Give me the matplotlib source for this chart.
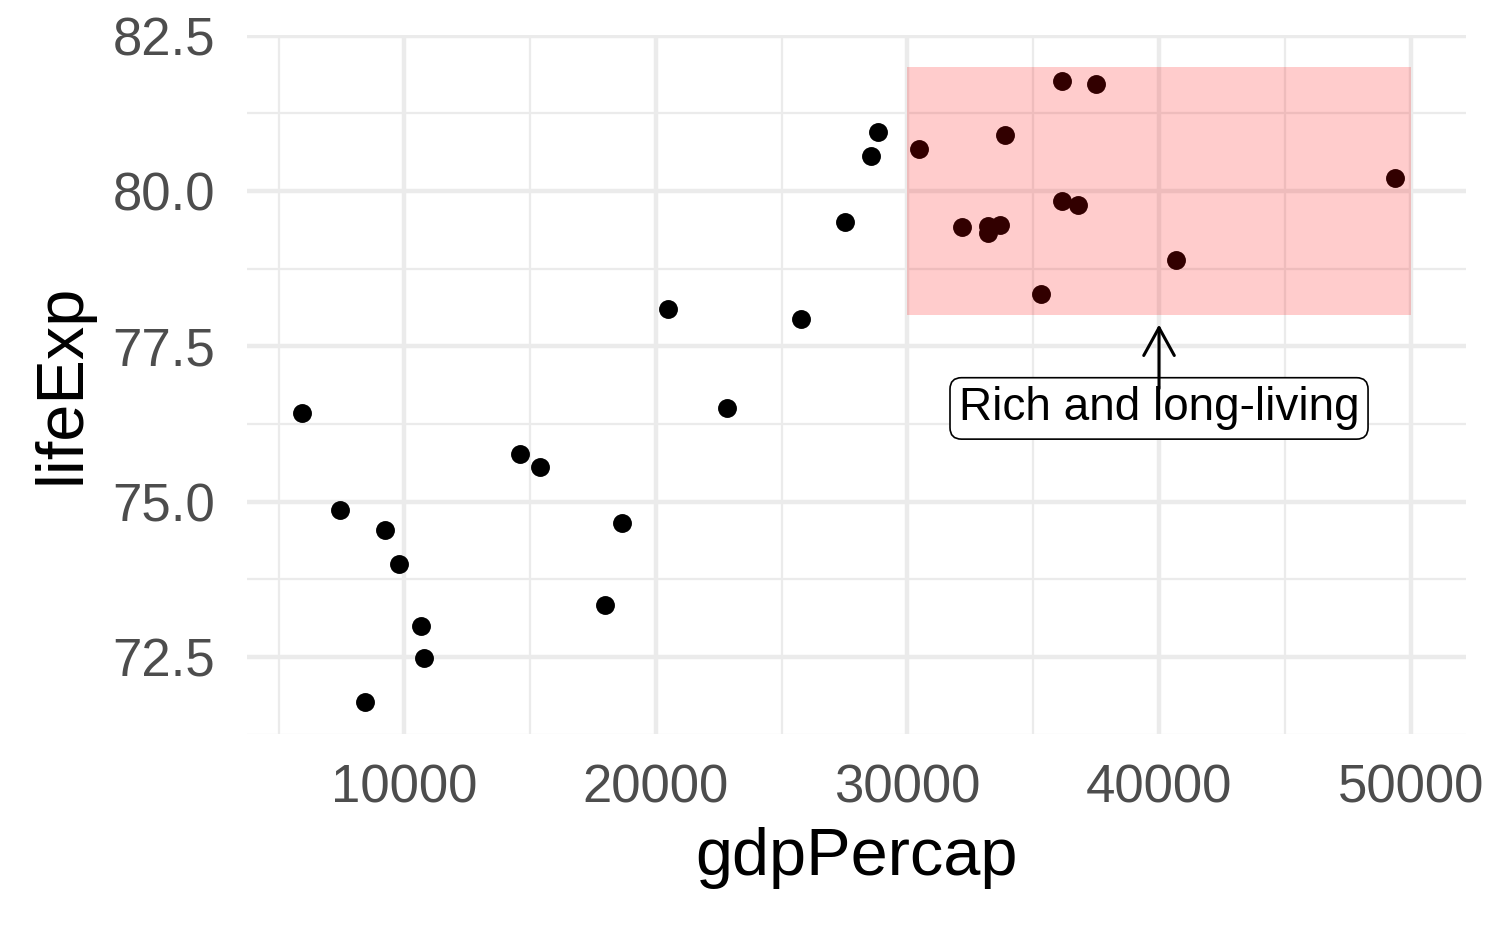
import matplotlib
matplotlib.use("Agg")
import matplotlib.pyplot as plt
from matplotlib.patches import Rectangle

plt.rcParams['font.family'] = ['Liberation Sans', 'DejaVu Sans']

gdpPercap = [5948, 7457, 9245, 9801, 10675, 10795, 8450, 14609, 15403, 18661,
             17986, 20489, 22833, 25773, 27521, 28554, 28832, 30461, 32169, 33202,
             33202, 33679, 33878, 36142, 36142, 36778, 37493, 35306, 40671, 49372]
lifeExp = [76.43, 74.86, 74.55, 74.00, 73.00, 72.48, 71.77, 75.76, 75.56, 74.66,
           73.33, 78.10, 76.50, 77.94, 79.50, 80.56, 80.95, 80.68, 79.42, 79.32,
           79.44, 79.45, 80.90, 81.77, 79.84, 79.77, 81.72, 78.34, 78.89, 80.21]

rect_x = [30000, 50000]
rect_y = [78, 82]
label_text = "Rich and long-living"
label_xy = (40000, 76.5)
arrow_from = (40000, 76.82)
arrow_to = (40000, 77.85)

xticks = [10000, 20000, 30000, 40000, 50000]
xminor = [5000, 15000, 25000, 35000, 45000]
yticks = [72.5, 75.0, 77.5, 80.0, 82.5]
yminor = [71.25, 73.75, 76.25, 78.75, 81.25]

fig = plt.figure(figsize=(15, 9.27), dpi=100)
ax = fig.add_axes([247/1500, 1-734/927, (1466-247)/1500, (734-35)/927])

ax.set_xlim(3745, 52203)
ax.set_ylim(71.26, 82.51)

grid_c = '#EBEBEB'
for v in xminor:
    ax.axvline(v, color=grid_c, lw=1.6, zorder=0)
for v in yminor:
    ax.axhline(v, color=grid_c, lw=1.6, zorder=0)
for v in xticks:
    ax.axvline(v, color=grid_c, lw=3.2, zorder=0)
for v in yticks:
    ax.axhline(v, color=grid_c, lw=3.2, zorder=0)

ax.scatter(gdpPercap, lifeExp, s=185, color='black', linewidths=0, zorder=2)

ax.add_patch(Rectangle((rect_x[0], rect_y[0]), rect_x[1]-rect_x[0], rect_y[1]-rect_y[0],
                       facecolor='red', alpha=0.2, edgecolor='none', zorder=3))

ax.text(label_xy[0], label_xy[1], label_text, ha='center', va='center', fontsize=33,
        color='black', zorder=4,
        bbox=dict(boxstyle='round,pad=0.19,rounding_size=0.25', facecolor='white',
                  edgecolor='black', linewidth=1.2))
ax.annotate('', xy=arrow_to, xytext=arrow_from,
            arrowprops=dict(arrowstyle='->,head_length=2.0,head_width=1.1', color='black',
                            lw=2.2, shrinkA=0, shrinkB=0), zorder=5)

ax.set_xticks(xticks)
ax.set_xticklabels([str(t) for t in xticks])
ax.set_yticks(yticks)
ax.set_yticklabels([f"{t:.1f}" for t in yticks])
ax.tick_params(axis='both', length=0, labelsize=38, labelcolor='#4D4D4D')
ax.tick_params(axis='x', pad=21)
ax.tick_params(axis='y', pad=23)
for s in ax.spines.values():
    s.set_visible(False)

fig.text(856/1500, 1-858/927, 'gdpPercap', ha='center', va='center', fontsize=48)
fig.text(62/1500, 1-384/927, 'lifeExp', ha='center', va='center', fontsize=48, rotation=90)

fig.savefig('out.png', dpi=100, facecolor='white')
